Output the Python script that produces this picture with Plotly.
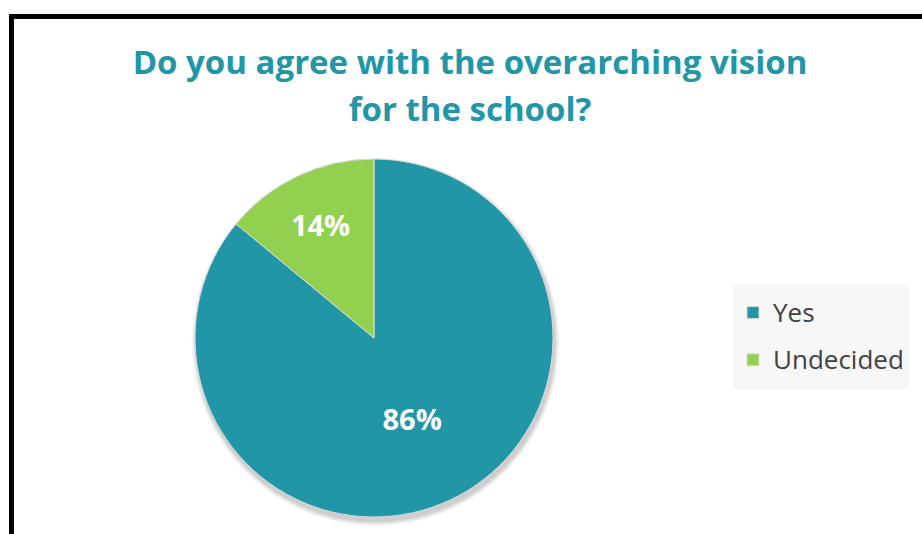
import plotly.graph_objects as go

labels = ["Yes", "Undecided"]
values = [86, 14]
colors = ["#2196A6", "#92D050"]
title_lines = ["Do you agree with the overarching vision", "for the school?"]

W, H = 922, 534
CX, CY, R = 374, 338, 179

# legend labels: visible text smaller than the legend line height, for wider item spacing
legend_labels = ["<span style='font-size:26px;baseline-shift:4px'>%s</span>" % s for s in labels]

fig = go.Figure(go.Pie(
    labels=legend_labels,
    values=values,
    sort=False,
    direction="clockwise",
    rotation=0,
    marker=dict(colors=colors, line=dict(color="#D9D9D9", width=1)),
    texttemplate="%{percent:.0%}",
    textposition="inside",
    insidetextfont=dict(family="Open Sans", size=29, color="white", weight="bold"),
    domain=dict(x=[(CX - R) / W, (CX + R) / W], y=[1 - (CY + R) / H, 1 - (CY - R) / H]),
    hoverinfo="percent",
))

# soft shadow behind the pie
shapes = []
for i, op in enumerate([0.05, 0.045, 0.04, 0.035, 0.03]):
    rr = R + 1 + i
    dx, dy = 1.5, 4
    shapes.append(dict(type="circle", xref="paper", yref="paper", layer="below",
                       x0=(CX + dx - rr) / W, x1=(CX + dx + rr) / W,
                       y0=1 - (CY + dy + rr) / H, y1=1 - (CY + dy - rr) / H,
                       fillcolor="rgba(0,0,0,%.3f)" % op, line=dict(width=0)))
shapes.append(dict(type="rect", xref="paper", yref="paper",
                   x0=11.5 / W, x1=1.05, y0=-0.05, y1=1 - 16.5 / H,
                   line=dict(color="black", width=5)))

title_text = "<br>".join("<span style='font-size:33px'>%s</span>" % s for s in title_lines)

fig.update_layout(
    width=W, height=H,
    margin=dict(l=0, r=0, t=0, b=0),
    paper_bgcolor="white",
    plot_bgcolor="white",
    title=dict(text=title_text, x=470 / W, xanchor="center", y=1 - 74 / H, yanchor="middle",
               font=dict(family="Open Sans", size=36, color="#2196A6", weight="bold")),
    legend=dict(x=733 / W, y=1 - 284 / H, xanchor="left", yanchor="top",
                bgcolor="#F7F7F7", font=dict(family="Open Sans", size=34, color="#404040"),
                itemwidth=30),
    shapes=shapes,
)

fig.write_html("out.html", config={"displayModeBar": False},
               post_script="document.body.style.margin='0px';")
